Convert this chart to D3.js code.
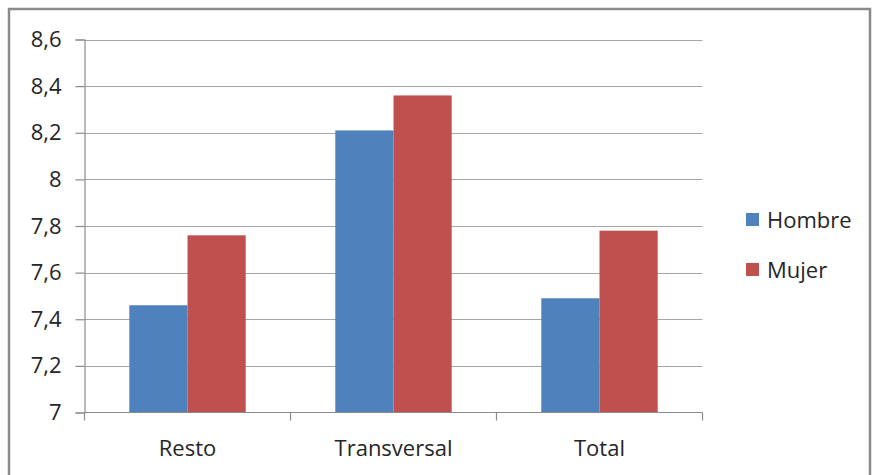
<!DOCTYPE html>
<html>
<head>
<meta charset="utf-8">
<script src="https://cdn.jsdelivr.net/npm/d3@7"></script>
<style>
  html, body { margin: 0; padding: 0; background: #fff; }
  svg { display: block; }
  text { font-family: "Open Sans", sans-serif; fill: #262626; }
</style>
</head>
<body>
<div id="chart"></div>
<script>
// Categories, series and their values
const categories = ["Resto", "Transversal", "Total"];
const seriesNames = ["Hombre", "Mujer"];
const hombre = [7.46, 8.21, 7.49];
const mujer = [7.76, 8.36, 7.78];
const yTicks = [7, 7.2, 7.4, 7.6, 7.8, 8, 8.2, 8.4, 8.6];
const colors = ["#4F81BD", "#C0504D"];

const W = 872, H = 475;
const plot = { left: 84.5, right: 702.5, top: 39.5, bottom: 412.5 };

const svg = d3.select("#chart").append("svg")
  .attr("width", W).attr("height", H);

// Outer chart frame (bottom edge falls outside the view)
svg.append("rect")
  .attr("x", 9).attr("y", 9)
  .attr("width", 861).attr("height", 480)
  .attr("fill", "none").attr("stroke", "#8a8a8a").attr("stroke-width", 2.5);

const x = d3.scaleBand().domain(categories)
  .range([plot.left, plot.right]).paddingInner(0).paddingOuter(0);
const xInner = d3.scaleBand().domain(seriesNames)
  .range([0, x.bandwidth()]).paddingOuter(0.77).paddingInner(0);
const y = d3.scaleLinear().domain([7, 8.6]).range([plot.bottom, plot.top]);

const fmt = v => d3.format("~g")(v).replace(".", ",");

// Horizontal gridlines
svg.append("g").selectAll("line").data(yTicks.filter(t => t > 7)).join("line")
  .attr("x1", plot.left).attr("x2", plot.right)
  .attr("y1", d => Math.round(y(d)) + 0.5).attr("y2", d => Math.round(y(d)) + 0.5)
  .attr("stroke", "#a6a6a6").attr("stroke-width", 1.2);

// Bars
const rows = categories.map((c, i) => ({ cat: c, vals: [hombre[i], mujer[i]] }));
svg.append("g").selectAll("g").data(rows).join("g")
  .attr("transform", d => `translate(${x(d.cat)},0)`)
  .selectAll("rect").data(d => d.vals.map((v, j) => ({ name: seriesNames[j], v, j })))
  .join("rect")
  .attr("x", d => xInner(d.name))
  .attr("width", xInner.bandwidth())
  .attr("y", d => y(d.v))
  .attr("height", d => y(7) - y(d.v))
  .attr("fill", d => colors[d.j]);

// Y axis
const yAxis = svg.append("g")
  .attr("transform", `translate(${plot.left},0)`)
  .call(d3.axisLeft(y).tickValues(yTicks).tickFormat(fmt).tickSize(9).tickPadding(14));
yAxis.select(".domain").attr("stroke", "#8c8c8c").attr("stroke-width", 1.2);
yAxis.selectAll(".tick line").attr("stroke", "#8c8c8c").attr("stroke-width", 1.2);
yAxis.selectAll("text").attr("font-size", 22).attr("fill", "#262626")
  .style("font-family", "'Open Sans', sans-serif");

// X axis with ticks at category boundaries
const xAxisG = svg.append("g").attr("transform", `translate(0,${plot.bottom})`);
xAxisG.append("line")
  .attr("x1", plot.left).attr("x2", plot.right)
  .attr("stroke", "#8c8c8c").attr("stroke-width", 1.2);
const bounds = categories.map(c => x(c)).concat([x(categories[categories.length - 1]) + x.bandwidth()]);
xAxisG.selectAll("line.tk").data(bounds).join("line").attr("class", "tk")
  .attr("x1", d => d).attr("x2", d => d).attr("y1", 0).attr("y2", 8)
  .attr("stroke", "#8c8c8c").attr("stroke-width", 1.2);
xAxisG.selectAll("text").data(categories).join("text")
  .attr("x", d => x(d) + x.bandwidth() / 2)
  .attr("y", 43)
  .attr("text-anchor", "middle")
  .attr("font-size", 22)
  .text(d => d);

// Legend
const legend = svg.append("g").attr("transform", "translate(746,213)");
const li = legend.selectAll("g").data(seriesNames).join("g")
  .attr("transform", (d, i) => `translate(0,${i * 50})`);
li.append("rect").attr("width", 13).attr("height", 13)
  .attr("fill", (d, i) => colors[i]);
li.append("text").attr("x", 21).attr("y", 15)
  .attr("font-size", 22).text(d => d);
</script>
</body>
</html>
